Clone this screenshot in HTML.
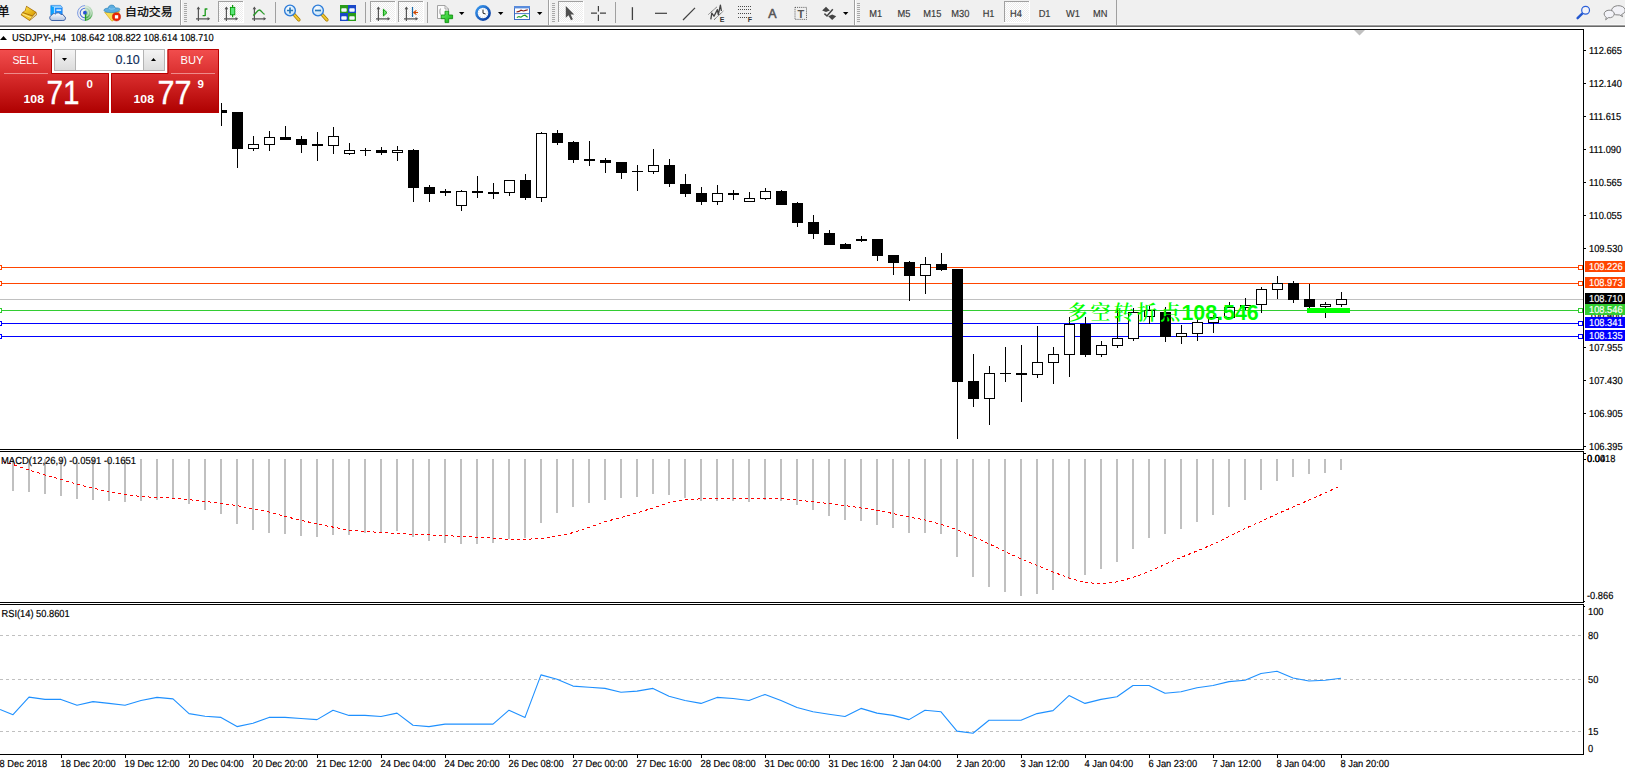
<!DOCTYPE html>
<html lang="zh"><head><meta charset="utf-8"><title>USDJPY-,H4</title>
<style>
html,body{margin:0;padding:0;background:#fff;overflow:hidden}
body{width:1625px;height:774px;position:relative;font-family:"Liberation Sans","Noto Sans CJK SC",sans-serif}
svg{position:absolute;left:0;top:0;display:block}
text{font-family:"Liberation Sans","Noto Sans CJK SC",sans-serif;font-size:9.3px;fill:#000}
.cr{shape-rendering:crispEdges}
.t{stroke:#000;stroke-width:.18px;text-rendering:geometricPrecision}
.tb text{fill:#3c3c3c}
.ax{stroke:#555;stroke-width:1.4;fill:none}
.note{font-family:"Liberation Sans","Noto Serif CJK SC",serif;font-weight:bold;font-size:21px;fill:#00ff00}
</style></head><body>
<svg width="1625" height="774" viewBox="0 0 1625 774">
<defs>
<pattern id="chk" width="2" height="2" patternUnits="userSpaceOnUse"><rect width="2" height="2" fill="#fff"/><rect width="1" height="1" fill="#ececec"/><rect x="1" y="1" width="1" height="1" fill="#ececec"/></pattern>
<linearGradient id="redg" x1="0" y1="0" x2="0" y2="1"><stop offset="0" stop-color="#f24e4e"/><stop offset="0.45" stop-color="#d62a2a"/><stop offset="1" stop-color="#ae0000"/></linearGradient>
<linearGradient id="gold" x1="0" y1="0" x2="1" y2="1"><stop offset="0" stop-color="#ffe24a"/><stop offset="1" stop-color="#d89a00"/></linearGradient>
<linearGradient id="btn" x1="0" y1="0" x2="0" y2="1"><stop offset="0" stop-color="#f4f4f4"/><stop offset="1" stop-color="#dcdcdc"/></linearGradient>
<radialGradient id="lens" cx="0.4" cy="0.35" r="0.7"><stop offset="0" stop-color="#ffffff"/><stop offset="1" stop-color="#b8dcf8"/></radialGradient>
<linearGradient id="cloud" x1="0" y1="0" x2="0" y2="1"><stop offset="0" stop-color="#ffffff"/><stop offset="1" stop-color="#b4c4de"/></linearGradient>
<linearGradient id="sig" x1="0" y1="0" x2="0" y2="1"><stop offset="0" stop-color="#d4e4d6"/><stop offset=".55" stop-color="#8cc890"/><stop offset="1" stop-color="#2a9a2e"/></linearGradient>
<linearGradient id="clk" x1="0" y1="0" x2="1" y2="1"><stop offset="0" stop-color="#3a9af0"/><stop offset="1" stop-color="#08369a"/></linearGradient>
<linearGradient id="grn" x1="0" y1="0" x2="1" y2="1"><stop offset="0" stop-color="#6cf06c"/><stop offset="1" stop-color="#12b012"/></linearGradient>
</defs>
<rect width="1625" height="774" fill="#fff"/>
<g class="cr">
<rect x="0" y="29" width="1584" height="1" fill="#000"/>
<rect x="1583" y="29" width="1" height="421" fill="#000"/>
<rect x="0" y="449" width="1584" height="1" fill="#000"/>
<rect x="0" y="451" width="1584" height="1" fill="#000"/>
<rect x="1583" y="451" width="1" height="152" fill="#000"/>
<rect x="0" y="602" width="1584" height="1" fill="#000"/>
<rect x="0" y="604" width="1584" height="1" fill="#000"/>
<rect x="1583" y="604" width="1" height="151" fill="#000"/>
<rect x="0" y="754" width="1584" height="1" fill="#000"/>
<polygon points="1354,30 1365,30 1359.5,35.5" fill="#c0c0c0" shape-rendering="auto"/>
<rect x="0" y="299" width="1583" height="1" fill="#c0c0c0"/>
<rect x="0" y="267" width="1583" height="1" fill="#ff4500"/>
<rect x="0" y="283" width="1583" height="1" fill="#ff4500"/>
<rect x="0" y="310" width="1583" height="1" fill="#32cd32"/>
<rect x="0" y="323" width="1583" height="1" fill="#0000ff"/>
<rect x="0" y="336" width="1583" height="1" fill="#0000ff"/>
<rect x="221" y="103" width="1" height="23" fill="#000"/>
<rect x="216" y="110" width="11" height="3" fill="#000"/>
<rect x="237" y="112" width="1" height="56" fill="#000"/>
<rect x="232" y="112" width="11" height="37" fill="#000"/>
<rect x="253" y="136" width="1" height="15" fill="#000"/>
<rect x="248" y="144" width="11" height="5" fill="#000"/>
<rect x="249" y="145" width="9" height="3" fill="#fff"/>
<rect x="269" y="131" width="1" height="20" fill="#000"/>
<rect x="264" y="137" width="11" height="8" fill="#000"/>
<rect x="265" y="138" width="9" height="6" fill="#fff"/>
<rect x="285" y="126" width="1" height="14" fill="#000"/>
<rect x="280" y="137" width="11" height="3" fill="#000"/>
<rect x="301" y="136" width="1" height="17" fill="#000"/>
<rect x="296" y="139" width="11" height="6" fill="#000"/>
<rect x="317" y="132" width="1" height="29" fill="#000"/>
<rect x="312" y="144" width="11" height="2" fill="#000"/>
<rect x="333" y="127" width="1" height="27" fill="#000"/>
<rect x="328" y="136" width="11" height="10" fill="#000"/>
<rect x="329" y="137" width="9" height="8" fill="#fff"/>
<rect x="349" y="143" width="1" height="12" fill="#000"/>
<rect x="344" y="150" width="11" height="4" fill="#000"/>
<rect x="345" y="151" width="9" height="2" fill="#fff"/>
<rect x="365" y="148" width="1" height="8" fill="#000"/>
<rect x="360" y="150" width="11" height="1" fill="#000"/>
<rect x="381" y="147" width="1" height="8" fill="#000"/>
<rect x="376" y="150" width="11" height="3" fill="#000"/>
<rect x="397" y="146" width="1" height="15" fill="#000"/>
<rect x="392" y="150" width="11" height="3" fill="#000"/>
<rect x="393" y="151" width="9" height="1" fill="#fff"/>
<rect x="413" y="149" width="1" height="53" fill="#000"/>
<rect x="408" y="150" width="11" height="38" fill="#000"/>
<rect x="429" y="185" width="1" height="17" fill="#000"/>
<rect x="424" y="187" width="11" height="7" fill="#000"/>
<rect x="445" y="189" width="1" height="7" fill="#000"/>
<rect x="440" y="191" width="11" height="2" fill="#000"/>
<rect x="461" y="190" width="1" height="21" fill="#000"/>
<rect x="456" y="191" width="11" height="15" fill="#000"/>
<rect x="457" y="192" width="9" height="13" fill="#fff"/>
<rect x="477" y="176" width="1" height="22" fill="#000"/>
<rect x="472" y="191" width="11" height="2" fill="#000"/>
<rect x="493" y="183" width="1" height="16" fill="#000"/>
<rect x="488" y="192" width="11" height="2" fill="#000"/>
<rect x="509" y="180" width="1" height="16" fill="#000"/>
<rect x="504" y="180" width="11" height="13" fill="#000"/>
<rect x="505" y="181" width="9" height="11" fill="#fff"/>
<rect x="525" y="174" width="1" height="26" fill="#000"/>
<rect x="520" y="180" width="11" height="18" fill="#000"/>
<rect x="541" y="132" width="1" height="70" fill="#000"/>
<rect x="536" y="133" width="11" height="65" fill="#000"/>
<rect x="537" y="134" width="9" height="63" fill="#fff"/>
<rect x="557" y="130" width="1" height="15" fill="#000"/>
<rect x="552" y="133" width="11" height="10" fill="#000"/>
<rect x="573" y="141" width="1" height="22" fill="#000"/>
<rect x="568" y="142" width="11" height="18" fill="#000"/>
<rect x="589" y="141" width="1" height="25" fill="#000"/>
<rect x="584" y="159" width="11" height="2" fill="#000"/>
<rect x="605" y="158" width="1" height="15" fill="#000"/>
<rect x="600" y="160" width="11" height="3" fill="#000"/>
<rect x="621" y="162" width="1" height="17" fill="#000"/>
<rect x="616" y="162" width="11" height="11" fill="#000"/>
<rect x="637" y="165" width="1" height="26" fill="#000"/>
<rect x="632" y="171" width="11" height="1" fill="#000"/>
<rect x="653" y="149" width="1" height="25" fill="#000"/>
<rect x="648" y="165" width="11" height="7" fill="#000"/>
<rect x="649" y="166" width="9" height="5" fill="#fff"/>
<rect x="669" y="159" width="1" height="28" fill="#000"/>
<rect x="664" y="165" width="11" height="19" fill="#000"/>
<rect x="685" y="174" width="1" height="23" fill="#000"/>
<rect x="680" y="184" width="11" height="10" fill="#000"/>
<rect x="701" y="187" width="1" height="18" fill="#000"/>
<rect x="696" y="193" width="11" height="9" fill="#000"/>
<rect x="717" y="185" width="1" height="20" fill="#000"/>
<rect x="712" y="193" width="11" height="9" fill="#000"/>
<rect x="713" y="194" width="9" height="7" fill="#fff"/>
<rect x="733" y="190" width="1" height="10" fill="#000"/>
<rect x="728" y="193" width="11" height="2" fill="#000"/>
<rect x="749" y="192" width="1" height="10" fill="#000"/>
<rect x="744" y="198" width="11" height="4" fill="#000"/>
<rect x="745" y="199" width="9" height="2" fill="#fff"/>
<rect x="765" y="188" width="1" height="12" fill="#000"/>
<rect x="760" y="191" width="11" height="8" fill="#000"/>
<rect x="761" y="192" width="9" height="6" fill="#fff"/>
<rect x="781" y="190" width="1" height="15" fill="#000"/>
<rect x="776" y="191" width="11" height="14" fill="#000"/>
<rect x="797" y="202" width="1" height="25" fill="#000"/>
<rect x="792" y="203" width="11" height="20" fill="#000"/>
<rect x="813" y="215" width="1" height="24" fill="#000"/>
<rect x="808" y="222" width="11" height="12" fill="#000"/>
<rect x="829" y="230" width="1" height="15" fill="#000"/>
<rect x="824" y="233" width="11" height="12" fill="#000"/>
<rect x="845" y="243" width="1" height="6" fill="#000"/>
<rect x="840" y="244" width="11" height="5" fill="#000"/>
<rect x="861" y="236" width="1" height="6" fill="#000"/>
<rect x="856" y="239" width="11" height="2" fill="#000"/>
<rect x="877" y="239" width="1" height="22" fill="#000"/>
<rect x="872" y="239" width="11" height="17" fill="#000"/>
<rect x="893" y="255" width="1" height="20" fill="#000"/>
<rect x="888" y="255" width="11" height="8" fill="#000"/>
<rect x="909" y="261" width="1" height="40" fill="#000"/>
<rect x="904" y="262" width="11" height="14" fill="#000"/>
<rect x="925" y="257" width="1" height="37" fill="#000"/>
<rect x="920" y="264" width="11" height="12" fill="#000"/>
<rect x="921" y="265" width="9" height="10" fill="#fff"/>
<rect x="941" y="253" width="1" height="18" fill="#000"/>
<rect x="936" y="264" width="11" height="6" fill="#000"/>
<rect x="957" y="269" width="1" height="170" fill="#000"/>
<rect x="952" y="269" width="11" height="113" fill="#000"/>
<rect x="973" y="354" width="1" height="53" fill="#000"/>
<rect x="968" y="381" width="11" height="18" fill="#000"/>
<rect x="989" y="366" width="1" height="59" fill="#000"/>
<rect x="984" y="373" width="11" height="26" fill="#000"/>
<rect x="985" y="374" width="9" height="24" fill="#fff"/>
<rect x="1005" y="347" width="1" height="35" fill="#000"/>
<rect x="1000" y="373" width="11" height="1" fill="#000"/>
<rect x="1021" y="345" width="1" height="57" fill="#000"/>
<rect x="1016" y="373" width="11" height="2" fill="#000"/>
<rect x="1037" y="326" width="1" height="52" fill="#000"/>
<rect x="1032" y="362" width="11" height="13" fill="#000"/>
<rect x="1033" y="363" width="9" height="11" fill="#fff"/>
<rect x="1053" y="347" width="1" height="37" fill="#000"/>
<rect x="1048" y="354" width="11" height="9" fill="#000"/>
<rect x="1049" y="355" width="9" height="7" fill="#fff"/>
<rect x="1069" y="317" width="1" height="60" fill="#000"/>
<rect x="1064" y="324" width="11" height="31" fill="#000"/>
<rect x="1065" y="325" width="9" height="29" fill="#fff"/>
<rect x="1085" y="317" width="1" height="40" fill="#000"/>
<rect x="1080" y="324" width="11" height="31" fill="#000"/>
<rect x="1101" y="341" width="1" height="16" fill="#000"/>
<rect x="1096" y="345" width="11" height="10" fill="#000"/>
<rect x="1097" y="346" width="9" height="8" fill="#fff"/>
<rect x="1117" y="308" width="1" height="40" fill="#000"/>
<rect x="1112" y="338" width="11" height="8" fill="#000"/>
<rect x="1113" y="339" width="9" height="6" fill="#fff"/>
<rect x="1133" y="308" width="1" height="33" fill="#000"/>
<rect x="1128" y="312" width="11" height="27" fill="#000"/>
<rect x="1129" y="313" width="9" height="25" fill="#fff"/>
<rect x="1149" y="306" width="1" height="18" fill="#000"/>
<rect x="1144" y="310" width="11" height="7" fill="#000"/>
<rect x="1145" y="311" width="9" height="5" fill="#fff"/>
<rect x="1165" y="307" width="1" height="35" fill="#000"/>
<rect x="1160" y="312" width="11" height="25" fill="#000"/>
<rect x="1181" y="325" width="1" height="19" fill="#000"/>
<rect x="1176" y="333" width="11" height="4" fill="#000"/>
<rect x="1177" y="334" width="9" height="2" fill="#fff"/>
<rect x="1197" y="319" width="1" height="22" fill="#000"/>
<rect x="1192" y="322" width="11" height="12" fill="#000"/>
<rect x="1193" y="323" width="9" height="10" fill="#fff"/>
<rect x="1213" y="315" width="1" height="18" fill="#000"/>
<rect x="1208" y="317" width="11" height="6" fill="#000"/>
<rect x="1209" y="318" width="9" height="4" fill="#fff"/>
<rect x="1229" y="302" width="1" height="16" fill="#000"/>
<rect x="1224" y="307" width="11" height="11" fill="#000"/>
<rect x="1225" y="308" width="9" height="9" fill="#fff"/>
<rect x="1245" y="298" width="1" height="12" fill="#000"/>
<rect x="1240" y="305" width="11" height="3" fill="#000"/>
<rect x="1241" y="306" width="9" height="1" fill="#fff"/>
<rect x="1261" y="287" width="1" height="26" fill="#000"/>
<rect x="1256" y="289" width="11" height="16" fill="#000"/>
<rect x="1257" y="290" width="9" height="14" fill="#fff"/>
<rect x="1277" y="276" width="1" height="23" fill="#000"/>
<rect x="1272" y="283" width="11" height="7" fill="#000"/>
<rect x="1273" y="284" width="9" height="5" fill="#fff"/>
<rect x="1293" y="281" width="1" height="22" fill="#000"/>
<rect x="1288" y="283" width="11" height="17" fill="#000"/>
<rect x="1309" y="284" width="1" height="24" fill="#000"/>
<rect x="1304" y="299" width="11" height="8" fill="#000"/>
<rect x="1325" y="302" width="1" height="16" fill="#000"/>
<rect x="1320" y="304" width="11" height="3" fill="#000"/>
<rect x="1321" y="305" width="9" height="1" fill="#fff"/>
<rect x="1341" y="292" width="1" height="15" fill="#000"/>
<rect x="1336" y="299" width="11" height="6" fill="#000"/>
<rect x="1337" y="300" width="9" height="4" fill="#fff"/>
<rect x="1307" y="308" width="43" height="5" fill="#00ff00"/>
<rect x="1578.5" y="265.5" width="4" height="4" fill="#fff" stroke="#ff4500" stroke-width="1"/>
<rect x="-2.5" y="265.5" width="4" height="4" fill="#fff" stroke="#ff4500" stroke-width="1"/>
<rect x="1578.5" y="281.5" width="4" height="4" fill="#fff" stroke="#ff4500" stroke-width="1"/>
<rect x="-2.5" y="281.5" width="4" height="4" fill="#fff" stroke="#ff4500" stroke-width="1"/>
<rect x="1578.5" y="308.5" width="4" height="4" fill="#fff" stroke="#32cd32" stroke-width="1"/>
<rect x="-2.5" y="308.5" width="4" height="4" fill="#fff" stroke="#32cd32" stroke-width="1"/>
<rect x="1578.5" y="321.5" width="4" height="4" fill="#fff" stroke="#0000ff" stroke-width="1"/>
<rect x="-2.5" y="321.5" width="4" height="4" fill="#fff" stroke="#0000ff" stroke-width="1"/>
<rect x="1578.5" y="334.5" width="4" height="4" fill="#fff" stroke="#0000ff" stroke-width="1"/>
<rect x="-2.5" y="334.5" width="4" height="4" fill="#fff" stroke="#0000ff" stroke-width="1"/>
<rect x="1584" y="50" width="2" height="1" fill="#000"/>
<rect x="1584" y="83" width="2" height="1" fill="#000"/>
<rect x="1584" y="116" width="2" height="1" fill="#000"/>
<rect x="1584" y="149" width="2" height="1" fill="#000"/>
<rect x="1584" y="182" width="2" height="1" fill="#000"/>
<rect x="1584" y="215" width="2" height="1" fill="#000"/>
<rect x="1584" y="248" width="2" height="1" fill="#000"/>
<rect x="1584" y="347" width="2" height="1" fill="#000"/>
<rect x="1584" y="380" width="2" height="1" fill="#000"/>
<rect x="1584" y="413" width="2" height="1" fill="#000"/>
<rect x="1584" y="446" width="2" height="1" fill="#000"/>
<rect x="12" y="459" width="2" height="32" fill="#c0c0c0"/>
<rect x="28" y="459" width="2" height="33" fill="#c0c0c0"/>
<rect x="44" y="459" width="2" height="35" fill="#c0c0c0"/>
<rect x="60" y="459" width="2" height="37" fill="#c0c0c0"/>
<rect x="76" y="459" width="2" height="40" fill="#c0c0c0"/>
<rect x="92" y="459" width="2" height="41" fill="#c0c0c0"/>
<rect x="108" y="459" width="2" height="42" fill="#c0c0c0"/>
<rect x="124" y="459" width="2" height="43" fill="#c0c0c0"/>
<rect x="140" y="459" width="2" height="42" fill="#c0c0c0"/>
<rect x="156" y="459" width="2" height="41" fill="#c0c0c0"/>
<rect x="172" y="459" width="2" height="40" fill="#c0c0c0"/>
<rect x="188" y="459" width="2" height="45" fill="#c0c0c0"/>
<rect x="204" y="459" width="2" height="51" fill="#c0c0c0"/>
<rect x="220" y="459" width="2" height="55" fill="#c0c0c0"/>
<rect x="236" y="459" width="2" height="65" fill="#c0c0c0"/>
<rect x="252" y="459" width="2" height="71" fill="#c0c0c0"/>
<rect x="268" y="459" width="2" height="74" fill="#c0c0c0"/>
<rect x="284" y="459" width="2" height="75" fill="#c0c0c0"/>
<rect x="300" y="459" width="2" height="77" fill="#c0c0c0"/>
<rect x="316" y="459" width="2" height="78" fill="#c0c0c0"/>
<rect x="332" y="459" width="2" height="76" fill="#c0c0c0"/>
<rect x="348" y="459" width="2" height="76" fill="#c0c0c0"/>
<rect x="364" y="459" width="2" height="74" fill="#c0c0c0"/>
<rect x="380" y="459" width="2" height="74" fill="#c0c0c0"/>
<rect x="396" y="459" width="2" height="72" fill="#c0c0c0"/>
<rect x="412" y="459" width="2" height="78" fill="#c0c0c0"/>
<rect x="428" y="459" width="2" height="82" fill="#c0c0c0"/>
<rect x="444" y="459" width="2" height="84" fill="#c0c0c0"/>
<rect x="460" y="459" width="2" height="85" fill="#c0c0c0"/>
<rect x="476" y="459" width="2" height="85" fill="#c0c0c0"/>
<rect x="492" y="459" width="2" height="84" fill="#c0c0c0"/>
<rect x="508" y="459" width="2" height="80" fill="#c0c0c0"/>
<rect x="524" y="459" width="2" height="79" fill="#c0c0c0"/>
<rect x="540" y="459" width="2" height="64" fill="#c0c0c0"/>
<rect x="556" y="459" width="2" height="54" fill="#c0c0c0"/>
<rect x="572" y="459" width="2" height="48" fill="#c0c0c0"/>
<rect x="588" y="459" width="2" height="44" fill="#c0c0c0"/>
<rect x="604" y="459" width="2" height="41" fill="#c0c0c0"/>
<rect x="620" y="459" width="2" height="39" fill="#c0c0c0"/>
<rect x="636" y="459" width="2" height="38" fill="#c0c0c0"/>
<rect x="652" y="459" width="2" height="35" fill="#c0c0c0"/>
<rect x="668" y="459" width="2" height="36" fill="#c0c0c0"/>
<rect x="684" y="459" width="2" height="39" fill="#c0c0c0"/>
<rect x="700" y="459" width="2" height="42" fill="#c0c0c0"/>
<rect x="716" y="459" width="2" height="42" fill="#c0c0c0"/>
<rect x="732" y="459" width="2" height="42" fill="#c0c0c0"/>
<rect x="748" y="459" width="2" height="43" fill="#c0c0c0"/>
<rect x="764" y="459" width="2" height="41" fill="#c0c0c0"/>
<rect x="780" y="459" width="2" height="42" fill="#c0c0c0"/>
<rect x="796" y="459" width="2" height="46" fill="#c0c0c0"/>
<rect x="812" y="459" width="2" height="51" fill="#c0c0c0"/>
<rect x="828" y="459" width="2" height="57" fill="#c0c0c0"/>
<rect x="844" y="459" width="2" height="61" fill="#c0c0c0"/>
<rect x="860" y="459" width="2" height="62" fill="#c0c0c0"/>
<rect x="876" y="459" width="2" height="66" fill="#c0c0c0"/>
<rect x="892" y="459" width="2" height="69" fill="#c0c0c0"/>
<rect x="908" y="459" width="2" height="74" fill="#c0c0c0"/>
<rect x="924" y="459" width="2" height="74" fill="#c0c0c0"/>
<rect x="940" y="459" width="2" height="75" fill="#c0c0c0"/>
<rect x="956" y="459" width="2" height="98" fill="#c0c0c0"/>
<rect x="972" y="459" width="2" height="118" fill="#c0c0c0"/>
<rect x="988" y="459" width="2" height="128" fill="#c0c0c0"/>
<rect x="1004" y="459" width="2" height="133" fill="#c0c0c0"/>
<rect x="1020" y="459" width="2" height="137" fill="#c0c0c0"/>
<rect x="1036" y="459" width="2" height="135" fill="#c0c0c0"/>
<rect x="1052" y="459" width="2" height="131" fill="#c0c0c0"/>
<rect x="1068" y="459" width="2" height="120" fill="#c0c0c0"/>
<rect x="1084" y="459" width="2" height="116" fill="#c0c0c0"/>
<rect x="1100" y="459" width="2" height="110" fill="#c0c0c0"/>
<rect x="1116" y="459" width="2" height="103" fill="#c0c0c0"/>
<rect x="1132" y="459" width="2" height="90" fill="#c0c0c0"/>
<rect x="1148" y="459" width="2" height="79" fill="#c0c0c0"/>
<rect x="1164" y="459" width="2" height="75" fill="#c0c0c0"/>
<rect x="1180" y="459" width="2" height="70" fill="#c0c0c0"/>
<rect x="1196" y="459" width="2" height="63" fill="#c0c0c0"/>
<rect x="1212" y="459" width="2" height="56" fill="#c0c0c0"/>
<rect x="1228" y="459" width="2" height="48" fill="#c0c0c0"/>
<rect x="1244" y="459" width="2" height="41" fill="#c0c0c0"/>
<rect x="1260" y="459" width="2" height="31" fill="#c0c0c0"/>
<rect x="1276" y="459" width="2" height="22" fill="#c0c0c0"/>
<rect x="1292" y="459" width="2" height="18" fill="#c0c0c0"/>
<rect x="1308" y="459" width="2" height="15" fill="#c0c0c0"/>
<rect x="1324" y="459" width="2" height="14" fill="#c0c0c0"/>
<rect x="1340" y="459" width="2" height="11" fill="#c0c0c0"/>
<rect x="1584" y="453" width="2" height="1" fill="#000"/><rect x="1584" y="459" width="2" height="1" fill="#000"/><rect x="1584" y="601" width="1" height="1" fill="#000"/><rect x="1584" y="606" width="1" height="1" fill="#000"/>
<line x1="0" y1="635.5" x2="1583" y2="635.5" stroke="#c0c0c0" stroke-width="1" stroke-dasharray="3 3"/>
<line x1="0" y1="679.5" x2="1583" y2="679.5" stroke="#c0c0c0" stroke-width="1" stroke-dasharray="3 3"/>
<line x1="0" y1="731.5" x2="1583" y2="731.5" stroke="#c0c0c0" stroke-width="1" stroke-dasharray="3 3"/>
<rect x="61" y="755" width="1" height="3" fill="#000"/>
<rect x="125" y="755" width="1" height="3" fill="#000"/>
<rect x="189" y="755" width="1" height="3" fill="#000"/>
<rect x="253" y="755" width="1" height="3" fill="#000"/>
<rect x="317" y="755" width="1" height="3" fill="#000"/>
<rect x="381" y="755" width="1" height="3" fill="#000"/>
<rect x="445" y="755" width="1" height="3" fill="#000"/>
<rect x="509" y="755" width="1" height="3" fill="#000"/>
<rect x="573" y="755" width="1" height="3" fill="#000"/>
<rect x="637" y="755" width="1" height="3" fill="#000"/>
<rect x="701" y="755" width="1" height="3" fill="#000"/>
<rect x="765" y="755" width="1" height="3" fill="#000"/>
<rect x="829" y="755" width="1" height="3" fill="#000"/>
<rect x="893" y="755" width="1" height="3" fill="#000"/>
<rect x="957" y="755" width="1" height="3" fill="#000"/>
<rect x="1021" y="755" width="1" height="3" fill="#000"/>
<rect x="1085" y="755" width="1" height="3" fill="#000"/>
<rect x="1149" y="755" width="1" height="3" fill="#000"/>
<rect x="1213" y="755" width="1" height="3" fill="#000"/>
<rect x="1277" y="755" width="1" height="3" fill="#000"/>
<rect x="1341" y="755" width="1" height="3" fill="#000"/>
</g>
<polyline points="-3,460 13,464.5 29,470 45,474.9 77,484.2 109,492 141,496.6 173,498.2 205,501.3 237,505.5 269,512.1 285,516.5 317,524 349,530.2 381,532.5 413,534.4 445,535.5 461,536.5 493,538 509,539.4 525,539.4 541,538.4 557,536 573,532.7 589,527.5 605,521.7 621,517.5 637,512.9 653,508 669,502.8 685,500 701,498.8 781,498.8 797,500 813,501.8 829,503.5 845,505.5 861,508 877,510.4 893,513.5 909,517 925,520 941,524.5 957,529.6 973,536.5 989,543.8 1005,551.5 1021,558.9 1037,565.5 1053,571.9 1069,578 1085,582.5 1101,583.6 1117,581.9 1133,577.5 1149,571.5 1165,564.5 1181,557.4 1197,551 1213,544.3 1229,536.5 1245,528.6 1261,521.5 1277,514 1293,507 1309,500 1325,493 1338,487" fill="none" stroke="#ff0000" stroke-width="1" stroke-dasharray="3 3" shape-rendering="crispEdges"/>
<polyline points="-3,708 0,709.5 13,714.7 29,697.1 45,699.4 61,699.4 77,705.2 93,701.6 109,703.4 125,705.2 141,700.5 157,697.4 173,698.9 189,713.6 205,716.3 221,717.4 237,726.6 253,723.2 269,717.4 285,717.4 301,718.5 317,719.6 333,710.2 349,715.4 365,715.4 381,716.5 397,713.1 413,725.3 429,726.6 445,724.1 461,724.1 477,724.1 493,724.1 509,710.2 525,717.4 541,674.9 557,679.2 573,686.1 589,687.3 605,688.4 621,692.2 637,691.1 653,688.4 669,696.2 685,700.5 701,703.4 717,697.4 733,698.5 749,700.5 765,694.4 781,700.5 797,707.5 813,711.8 829,714.2 845,716.5 861,708.4 877,713.1 893,715.4 909,719.6 925,710.2 941,711.8 957,731.1 973,733.3 989,720.3 1005,720.3 1021,720.3 1037,713.6 1053,710.6 1069,695.6 1085,703.4 1101,699.4 1117,696.7 1133,685.5 1149,685.5 1165,693.3 1181,691.7 1197,687.7 1213,685.5 1229,681.6 1245,680.3 1261,673.5 1277,671.3 1293,678 1309,681 1325,680.3 1341,678.3" fill="none" stroke="#1e90ff" stroke-width="1.1" stroke-linejoin="round"/>
<text transform="translate(1589 54) scale(0.912 1)" text-anchor="start" style="font-size:10.2px;" class="t">112.665</text>
<text transform="translate(1589 87) scale(0.912 1)" text-anchor="start" style="font-size:10.2px;" class="t">112.140</text>
<text transform="translate(1589 120) scale(0.912 1)" text-anchor="start" style="font-size:10.2px;" class="t">111.615</text>
<text transform="translate(1589 153) scale(0.912 1)" text-anchor="start" style="font-size:10.2px;" class="t">111.090</text>
<text transform="translate(1589 186) scale(0.912 1)" text-anchor="start" style="font-size:10.2px;" class="t">110.565</text>
<text transform="translate(1589 219) scale(0.912 1)" text-anchor="start" style="font-size:10.2px;" class="t">110.055</text>
<text transform="translate(1589 252) scale(0.912 1)" text-anchor="start" style="font-size:10.2px;" class="t">109.530</text>
<text transform="translate(1589 351) scale(0.912 1)" text-anchor="start" style="font-size:10.2px;" class="t">107.955</text>
<text transform="translate(1589 384) scale(0.912 1)" text-anchor="start" style="font-size:10.2px;" class="t">107.430</text>
<text transform="translate(1589 417) scale(0.912 1)" text-anchor="start" style="font-size:10.2px;" class="t">106.905</text>
<text transform="translate(1589 450) scale(0.912 1)" text-anchor="start" style="font-size:10.2px;" class="t">106.395</text>
<text transform="translate(1589 318) scale(0.912 1)" text-anchor="start" style="font-size:10.2px;" class="t">108.480</text>
<rect class="cr" x="1585" y="261" width="40" height="11" fill="#ff4500"/>
<text transform="translate(1589 270) scale(0.912 1)" text-anchor="start" style="font-size:10.2px;fill:#fff;stroke:#fff;" class="t">109.226</text>
<rect class="cr" x="1585" y="277" width="40" height="11" fill="#ff4500"/>
<text transform="translate(1589 286) scale(0.912 1)" text-anchor="start" style="font-size:10.2px;fill:#fff;stroke:#fff;" class="t">108.973</text>
<rect class="cr" x="1585" y="293" width="40" height="11" fill="#000"/>
<text transform="translate(1589 302) scale(0.912 1)" text-anchor="start" style="font-size:10.2px;fill:#fff;stroke:#fff;" class="t">108.710</text>
<rect class="cr" x="1585" y="304" width="40" height="11" fill="#32cd32"/>
<text transform="translate(1589 313) scale(0.912 1)" text-anchor="start" style="font-size:10.2px;fill:#fff;stroke:#fff;" class="t">108.546</text>
<rect class="cr" x="1585" y="317" width="40" height="11" fill="#0000ff"/>
<text transform="translate(1589 326) scale(0.912 1)" text-anchor="start" style="font-size:10.2px;fill:#fff;stroke:#fff;" class="t">108.341</text>
<rect class="cr" x="1585" y="330" width="40" height="11" fill="#0000ff"/>
<text transform="translate(1589 339) scale(0.912 1)" text-anchor="start" style="font-size:10.2px;fill:#fff;stroke:#fff;" class="t">108.135</text>
<text transform="translate(1587 462.4) scale(0.912 1)" text-anchor="start" style="font-size:10.2px;" class="t">0.00</text>
<text transform="translate(1587 462.4) scale(0.912 1)" text-anchor="start" style="font-size:10.2px;" class="t">0.0418</text>
<text transform="translate(1587 599) scale(0.912 1)" text-anchor="start" style="font-size:10.2px;" class="t">-0.866</text>
<text transform="translate(1588 615) scale(0.912 1)" text-anchor="start" style="font-size:10.2px;" class="t">100</text>
<text transform="translate(1588 639) scale(0.912 1)" text-anchor="start" style="font-size:10.2px;" class="t">80</text>
<text transform="translate(1588 683) scale(0.912 1)" text-anchor="start" style="font-size:10.2px;" class="t">50</text>
<text transform="translate(1588 735) scale(0.912 1)" text-anchor="start" style="font-size:10.2px;" class="t">15</text>
<text transform="translate(1588 752) scale(0.912 1)" text-anchor="start" style="font-size:10.2px;" class="t">0</text>
<text transform="translate(-5.6 767) scale(0.912 1)" text-anchor="start" style="font-size:10.2px;" class="t">18 Dec 2018</text>
<text transform="translate(60.5 767) scale(0.912 1)" text-anchor="start" style="font-size:10.2px;" class="t">18 Dec 20:00</text>
<text transform="translate(124.5 767) scale(0.912 1)" text-anchor="start" style="font-size:10.2px;" class="t">19 Dec 12:00</text>
<text transform="translate(188.5 767) scale(0.912 1)" text-anchor="start" style="font-size:10.2px;" class="t">20 Dec 04:00</text>
<text transform="translate(252.5 767) scale(0.912 1)" text-anchor="start" style="font-size:10.2px;" class="t">20 Dec 20:00</text>
<text transform="translate(316.5 767) scale(0.912 1)" text-anchor="start" style="font-size:10.2px;" class="t">21 Dec 12:00</text>
<text transform="translate(380.5 767) scale(0.912 1)" text-anchor="start" style="font-size:10.2px;" class="t">24 Dec 04:00</text>
<text transform="translate(444.5 767) scale(0.912 1)" text-anchor="start" style="font-size:10.2px;" class="t">24 Dec 20:00</text>
<text transform="translate(508.5 767) scale(0.912 1)" text-anchor="start" style="font-size:10.2px;" class="t">26 Dec 08:00</text>
<text transform="translate(572.5 767) scale(0.912 1)" text-anchor="start" style="font-size:10.2px;" class="t">27 Dec 00:00</text>
<text transform="translate(636.5 767) scale(0.912 1)" text-anchor="start" style="font-size:10.2px;" class="t">27 Dec 16:00</text>
<text transform="translate(700.5 767) scale(0.912 1)" text-anchor="start" style="font-size:10.2px;" class="t">28 Dec 08:00</text>
<text transform="translate(764.5 767) scale(0.912 1)" text-anchor="start" style="font-size:10.2px;" class="t">31 Dec 00:00</text>
<text transform="translate(828.5 767) scale(0.912 1)" text-anchor="start" style="font-size:10.2px;" class="t">31 Dec 16:00</text>
<text transform="translate(892.5 767) scale(0.912 1)" text-anchor="start" style="font-size:10.2px;" class="t">2 Jan 04:00</text>
<text transform="translate(956.5 767) scale(0.912 1)" text-anchor="start" style="font-size:10.2px;" class="t">2 Jan 20:00</text>
<text transform="translate(1020.5 767) scale(0.912 1)" text-anchor="start" style="font-size:10.2px;" class="t">3 Jan 12:00</text>
<text transform="translate(1084.5 767) scale(0.912 1)" text-anchor="start" style="font-size:10.2px;" class="t">4 Jan 04:00</text>
<text transform="translate(1148.5 767) scale(0.912 1)" text-anchor="start" style="font-size:10.2px;" class="t">6 Jan 23:00</text>
<text transform="translate(1212.5 767) scale(0.912 1)" text-anchor="start" style="font-size:10.2px;" class="t">7 Jan 12:00</text>
<text transform="translate(1276.5 767) scale(0.912 1)" text-anchor="start" style="font-size:10.2px;" class="t">8 Jan 04:00</text>
<text transform="translate(1340.5 767) scale(0.912 1)" text-anchor="start" style="font-size:10.2px;" class="t">8 Jan 20:00</text>
<polygon points="0,40 3.5,36 7,40" fill="#000"/>
<text transform="translate(12 41) scale(0.917 1)" text-anchor="start" style="font-size:10.2px;white-space:pre;" class="t" xml:space="preserve">USDJPY-,H4  108.642 108.822 108.614 108.710</text>
<text transform="translate(1 464) scale(0.927 1)" text-anchor="start" style="font-size:10.2px;" class="t">MACD(12,26,9) -0.0591 -0.1651</text>
<text transform="translate(1.5 617) scale(0.912 1)" text-anchor="start" style="font-size:10.2px;" class="t">RSI(14) 50.8601</text>
<text class="note" y="319.6" x="1067.6 1090.6 1113.8 1137 1160.2 1181.4" style="font-size:21.4px"><tspan style="font-size:20px;font-weight:600">多空转折点</tspan>108.546</text>
<g>
<rect class="cr" x="0" y="49" width="221" height="65" fill="#fff"/>
<path d="M0 49H52V73H109V113H0Z" fill="url(#redg)"/>
<path d="M167.5 49H219V113H111V73H167.5Z" fill="url(#redg)"/>
<path d="M0 49.5H51.5V73.5H108.5V112.5H0" fill="none" stroke="#b80000" stroke-width="1"/>
<path d="M168 49.5H218.5V112.5H111.5V73.5H168Z" fill="none" stroke="#b80000" stroke-width="1"/>
<rect class="cr" x="4" y="73" width="44" height="1" fill="#ee8a8a"/>
<rect class="cr" x="171" y="73" width="44" height="1" fill="#ee8a8a"/>
<rect x="54.5" y="49.5" width="110" height="21" fill="#fff" stroke="#b4b4b4"/>
<rect x="55" y="50" width="20" height="20" fill="url(#btn)"/><rect x="144" y="50" width="20" height="20" fill="url(#btn)"/>
<rect class="cr" x="75" y="50" width="1" height="20" fill="#b4b4b4"/><rect class="cr" x="143" y="50" width="1" height="20" fill="#b4b4b4"/>
<polygon points="62,58 67,58 64.5,61" fill="#000"/><polygon points="151,61 156,61 153.5,58" fill="#000"/>
<text x="139.8" y="64" text-anchor="end" style="font-size:12.5px;fill:#0c2c58;stroke:#0c2c58;stroke-width:.15px">0.10</text>
<text x="25.2" y="64.4" text-anchor="middle" style="font-size:11.5px;fill:#fff" textLength="25.6" lengthAdjust="spacingAndGlyphs">SELL</text>
<text x="192" y="64.4" text-anchor="middle" style="font-size:11.5px;fill:#fff" textLength="23" lengthAdjust="spacingAndGlyphs">BUY</text>
<text x="23.5" y="103.4" style="font-size:11.5px;fill:#fff;font-weight:bold" textLength="20.5" lengthAdjust="spacingAndGlyphs">108</text>
<text x="46.5" y="104"  style="font-size:33.5px;fill:#fff;stroke:#fff;stroke-width:.35px" textLength="33" lengthAdjust="spacingAndGlyphs">71</text>
<text x="86.5" y="88" style="font-size:11.5px;fill:#fff;font-weight:bold">0</text>
<text x="133.5" y="103.4" style="font-size:11.5px;fill:#fff;font-weight:bold" textLength="20.5" lengthAdjust="spacingAndGlyphs">108</text>
<text x="157.5" y="104"  style="font-size:33.5px;fill:#fff;stroke:#fff;stroke-width:.35px" textLength="34" lengthAdjust="spacingAndGlyphs">77</text>
<text x="197.5" y="88" style="font-size:11.5px;fill:#fff;font-weight:bold">9</text>
</g>
<g class="tb">
<g class="cr">
<rect x="0" y="0" width="1625" height="24" fill="#f0f0f0"/>
<rect x="0" y="24" width="1625" height="1" fill="#f7f7f7"/>
<rect x="0" y="25" width="1625" height="1" fill="#a0a0a0"/>
<rect x="0" y="26" width="1625" height="1" fill="#696969"/>
<rect x="180" y="0" width="1" height="25" fill="#a0a0a0"/><rect x="181" y="0" width="1" height="25" fill="#fff"/>
<rect x="548" y="0" width="1" height="25" fill="#a0a0a0"/><rect x="549" y="0" width="1" height="25" fill="#fff"/>
<rect x="854" y="0" width="1" height="25" fill="#a0a0a0"/><rect x="855" y="0" width="1" height="25" fill="#fff"/>
<rect x="184" y="3" width="3" height="1" fill="#a8a8a8"/>
<rect x="184" y="5" width="3" height="1" fill="#a8a8a8"/>
<rect x="184" y="7" width="3" height="1" fill="#a8a8a8"/>
<rect x="184" y="9" width="3" height="1" fill="#a8a8a8"/>
<rect x="184" y="11" width="3" height="1" fill="#a8a8a8"/>
<rect x="184" y="13" width="3" height="1" fill="#a8a8a8"/>
<rect x="184" y="15" width="3" height="1" fill="#a8a8a8"/>
<rect x="184" y="17" width="3" height="1" fill="#a8a8a8"/>
<rect x="184" y="19" width="3" height="1" fill="#a8a8a8"/>
<rect x="184" y="21" width="3" height="1" fill="#a8a8a8"/>
<rect x="552" y="3" width="3" height="1" fill="#a8a8a8"/>
<rect x="552" y="5" width="3" height="1" fill="#a8a8a8"/>
<rect x="552" y="7" width="3" height="1" fill="#a8a8a8"/>
<rect x="552" y="9" width="3" height="1" fill="#a8a8a8"/>
<rect x="552" y="11" width="3" height="1" fill="#a8a8a8"/>
<rect x="552" y="13" width="3" height="1" fill="#a8a8a8"/>
<rect x="552" y="15" width="3" height="1" fill="#a8a8a8"/>
<rect x="552" y="17" width="3" height="1" fill="#a8a8a8"/>
<rect x="552" y="19" width="3" height="1" fill="#a8a8a8"/>
<rect x="552" y="21" width="3" height="1" fill="#a8a8a8"/>
<rect x="857" y="3" width="3" height="1" fill="#a8a8a8"/>
<rect x="857" y="5" width="3" height="1" fill="#a8a8a8"/>
<rect x="857" y="7" width="3" height="1" fill="#a8a8a8"/>
<rect x="857" y="9" width="3" height="1" fill="#a8a8a8"/>
<rect x="857" y="11" width="3" height="1" fill="#a8a8a8"/>
<rect x="857" y="13" width="3" height="1" fill="#a8a8a8"/>
<rect x="857" y="15" width="3" height="1" fill="#a8a8a8"/>
<rect x="857" y="17" width="3" height="1" fill="#a8a8a8"/>
<rect x="857" y="19" width="3" height="1" fill="#a8a8a8"/>
<rect x="857" y="21" width="3" height="1" fill="#a8a8a8"/>
<rect x="1116" y="0" width="1" height="25" fill="#a0a0a0"/>
<rect x="275" y="2" width="1" height="21" fill="#a0a0a0"/>
<rect x="365" y="2" width="1" height="21" fill="#a0a0a0"/>
<rect x="427" y="2" width="1" height="21" fill="#a0a0a0"/>
<rect x="615" y="2" width="1" height="21" fill="#a0a0a0"/>
<rect x="218" y="1" width="26" height="22" fill="url(#chk)"/>
<rect x="218" y="1" width="26" height="1" fill="#a0a0a0"/><rect x="218" y="1" width="1" height="22" fill="#a0a0a0"/>
<rect x="218" y="22" width="26" height="1" fill="#fff"/><rect x="243" y="1" width="1" height="22" fill="#fff"/>
<rect x="370" y="1" width="26" height="22" fill="url(#chk)"/>
<rect x="370" y="1" width="26" height="1" fill="#a0a0a0"/><rect x="370" y="1" width="1" height="22" fill="#a0a0a0"/>
<rect x="370" y="22" width="26" height="1" fill="#fff"/><rect x="395" y="1" width="1" height="22" fill="#fff"/>
<rect x="398" y="1" width="26" height="22" fill="url(#chk)"/>
<rect x="398" y="1" width="26" height="1" fill="#a0a0a0"/><rect x="398" y="1" width="1" height="22" fill="#a0a0a0"/>
<rect x="398" y="22" width="26" height="1" fill="#fff"/><rect x="423" y="1" width="1" height="22" fill="#fff"/>
<rect x="558" y="1" width="26" height="22" fill="url(#chk)"/>
<rect x="558" y="1" width="26" height="1" fill="#a0a0a0"/><rect x="558" y="1" width="1" height="22" fill="#a0a0a0"/>
<rect x="558" y="22" width="26" height="1" fill="#fff"/><rect x="583" y="1" width="1" height="22" fill="#fff"/>
<rect x="1004" y="1" width="26" height="22" fill="url(#chk)"/>
<rect x="1004" y="1" width="26" height="1" fill="#a0a0a0"/><rect x="1004" y="1" width="1" height="22" fill="#a0a0a0"/>
<rect x="1004" y="22" width="26" height="1" fill="#fff"/><rect x="1029" y="1" width="1" height="22" fill="#fff"/>
</g>
<text x="-2.6" y="16" style="font-size:12px;fill:#000;stroke:#000;stroke-width:.25px">单</text>
<path d="M26.3 5.7L36.3 11.9L37 14.8L29.6 21.1L20.7 14.9L22.4 12.2L24.8 10.6Z" fill="#a8700c"/>
<path d="M35.7 13L36.4 14.6L29.9 20.1L32.8 16.2Z" fill="#e8d9a4"/>
<path d="M22.7 13L32.4 16.4L29.4 20.1L21.7 14.7Z" fill="#f3c62e"/><path d="M22.4 13.9L31.2 17.6" stroke="#ffe88a" stroke-width="1" fill="none"/>
<path d="M26.6 6.8L35.3 12.2L32.6 15.5L23.3 12.2L25.6 10.4Z" fill="url(#gold)"/>
<path d="M50.8 5.4L54.4 7.2V15H50.8Z" fill="#0aa4ff"/><path d="M50.8 5.4H60.6L62.2 7.2H54.4Z" fill="#6cc4ff"/><rect x="54.4" y="7.2" width="7.8" height="8" fill="#1e90ff"/><path d="M54.4 7.2V15M54.4 7.2H62.2" stroke="#e8f6ff" stroke-width=".7" fill="none"/><rect x="56.4" y="9.4" width="4.8" height="1.5" fill="#e4f4ff"/><path d="M50.8 5.4V15M50.8 5.4H60.6L62.2 7.2V15" stroke="#1878e0" stroke-width=".6" fill="none"/>
<path d="M52 20.5a2.7 2.7 0 0 1 -.2-5.3a2.4 2.4 0 0 1 3.6-1.2a3.3 3.3 0 0 1 5.4 .4a2.6 2.6 0 0 1 3.3 1.7a2.3 2.3 0 0 1 -1.2 4.4Z" fill="url(#cloud)" stroke="#3f64a8" stroke-width="1"/>
<path d="M85 5.2A7.8 7.8 0 0 1 85 20.8Z" fill="url(#sig)"/>
<g fill="none"><circle cx="85" cy="13" r="6.2" stroke="#f0f0f0" stroke-width=".9" opacity=".75"/><circle cx="85" cy="13" r="3.5" stroke="#f0f0f0" stroke-width=".9" opacity=".75"/></g>
<g fill="none" stroke="#4a72d8"><path d="M85 5.6A7.4 7.4 0 0 0 85 20.4" stroke-width="1" stroke="#7d9be2"/><path d="M85 8.2A4.8 4.8 0 0 0 85 17.8" stroke-width="1.1"/></g>
<path d="M85.5 13V20.6" stroke="#1fa01f" stroke-width="1.3"/><circle cx="84.9" cy="12.7" r="1.9" fill="#2a54d4"/>
<path d="M104.6 12.2L119.6 11.4L113 20.9H111.6Z" fill="#f8dc52" stroke="#d6a61c" stroke-width=".7"/>
<path d="M104 10.3c0 -1.6 2.2 -2 4.2 -2.2c.4 -1.8 1.4 -3 3.5 -3s3 1.2 3.4 2.8c2.4 0 4.8 .2 4.8 1.4c0 2 -4.2 3.4 -8.4 3.4s-7.5 -1 -7.5 -2.4Z" fill="#5cace0" stroke="#2c84b8" stroke-width=".7"/><path d="M109 8.4c1.4 1 4.4 1 5.8 -.2" stroke="#8fd0f4" stroke-width=".8" fill="none"/>
<circle cx="116.5" cy="16.8" r="4.1" fill="#ea2406" stroke="#c01800" stroke-width=".5"/><rect x="114.9" y="15.2" width="3.3" height="3.3" fill="#fff"/>
<text x="125" y="16" style="font-size:11.9px;fill:#000;stroke:#000;stroke-width:.25px" textLength="47.6" lengthAdjust="spacing">自动交易</text>
<path d="M198.4 21V7.6M196 18.8H209" stroke="#555" stroke-width="1.2" fill="none"/>
<path d="M198.4 6.6l-1.8 2.6h3.6zM210.2 18.8l-2.6 -1.8v3.6z" fill="#555"/>
<path d="M205.2 8.4V16M205.2 9H207.4M202.6 15.6H205.2" stroke="#1a9a1a" stroke-width="1.3" fill="none"/>
<path d="M226.4 21V7.6M224 18.8H237" stroke="#555" stroke-width="1.2" fill="none"/>
<path d="M226.4 6.6l-1.8 2.6h3.6zM238.2 18.8l-2.6 -1.8v3.6z" fill="#555"/>
<path d="M232.6 5V17.2" stroke="#0a9a0a" stroke-width="1.2"/><rect x="230.4" y="7.4" width="4.4" height="7.4" fill="#5ae878" stroke="#0a9a0a" stroke-width=".9"/>
<path d="M254.4 21V7.6M252 18.8H265" stroke="#555" stroke-width="1.2" fill="none"/>
<path d="M254.4 6.6l-1.8 2.6h3.6zM266.2 18.8l-2.6 -1.8v3.6z" fill="#555"/>
<path d="M253.2 15.6C256 13.5 257.5 10 259.3 10C261.2 10 262.5 13.5 264.6 14.4" stroke="#2a9a2a" stroke-width="1.3" fill="none"/>
<path d="M294.2 14.6L298.9 19.8" stroke="#a87800" stroke-width="3.4" stroke-linecap="round"/><path d="M294.2 14.6L298.9 19.8" stroke="#f0c830" stroke-width="2" stroke-linecap="round"/>
<circle cx="290" cy="10.5" r="5.4" fill="url(#lens)" stroke="#2a7ad8" stroke-width="1.3"/>
<path d="M287 10.5H293M290 7.5V13.5" stroke="#2a78b8" stroke-width="1.7"/>
<path d="M322.2 14.6L326.9 19.8" stroke="#a87800" stroke-width="3.4" stroke-linecap="round"/><path d="M322.2 14.6L326.9 19.8" stroke="#f0c830" stroke-width="2" stroke-linecap="round"/>
<circle cx="318" cy="10.5" r="5.4" fill="url(#lens)" stroke="#2a7ad8" stroke-width="1.3"/>
<path d="M315 10.5H321" stroke="#2a78b8" stroke-width="1.7"/>
<rect x="340" y="5" width="8" height="8" fill="#2a9c1a"/><rect x="341.3" y="8.2" width="5.4" height="3.6" rx=".8" fill="#f4f8ff"/>
<rect x="348" y="5" width="8" height="8" fill="#1a48c8"/><rect x="349.3" y="8.2" width="5.4" height="3.6" rx=".8" fill="#f4f8ff"/>
<rect x="340" y="13" width="8" height="8" fill="#1a48c8"/><rect x="341.3" y="16.2" width="5.4" height="3.6" rx=".8" fill="#f4f8ff"/>
<rect x="348" y="13" width="8" height="8" fill="#2a9c1a"/><rect x="349.3" y="16.2" width="5.4" height="3.6" rx=".8" fill="#f4f8ff"/>
<path d="M378.4 21V7.6M376 18.8H389" stroke="#555" stroke-width="1.2" fill="none"/>
<path d="M378.4 6.6l-1.8 2.6h3.6zM390.2 18.8l-2.6 -1.8v3.6z" fill="#555"/>
<path d="M383.4 9.2L387 12.6L383.4 16Z" fill="#6ae06a" stroke="#0a9a0a" stroke-width="1"/>
<path d="M406.4 21V7.6M404 18.8H417" stroke="#555" stroke-width="1.2" fill="none"/>
<path d="M406.4 6.6l-1.8 2.6h3.6zM418.2 18.8l-2.6 -1.8v3.6z" fill="#555"/>
<path d="M412.5 7V17" stroke="#1a6aa8" stroke-width="1.2"/><path d="M418 12.5H414M416.4 10.4L413.8 12.5L416.4 14.6" stroke="#d04800" stroke-width="1.2" fill="none"/>
<path d="M437.5 5.5H445L448.5 9V18.5H437.5Z" fill="#fbfbfb" stroke="#9a9a9a" stroke-width=".9"/><path d="M445 5.5V9H448.5" fill="none" stroke="#9a9a9a" stroke-width=".8"/><path d="M440.8 8.6c-1.2 0 -1.2 6 0 6" stroke="#777" stroke-width=".8" fill="none"/>
<path d="M445 11.2H448.7V15H452.6V18.7H448.7V22.6H445V18.7H441.2V15H445Z" fill="url(#grn)" stroke="#0a8a0a" stroke-width=".8"/>
<polygon points="459,12 464.4,12 461.7,15" fill="#000"/>
<polygon points="498,12 503.4,12 500.7,15" fill="#000"/>
<polygon points="537,12 542.4,12 539.7,15" fill="#000"/>
<polygon points="843,12 848.4,12 845.7,15" fill="#000"/>
<circle cx="483" cy="13" r="6.6" fill="#fbfdff" stroke="url(#clk)" stroke-width="2.6"/><circle cx="483" cy="13" r="4.3" fill="none" stroke="#b8c0cc" stroke-width=".9" stroke-dasharray=".7 1.55"/><path d="M483 9.6V13.2L485.6 14" stroke="#222" stroke-width="1" fill="none"/>
<rect x="514.5" y="6.5" width="15" height="13" fill="#fff" stroke="#3a6cc4" stroke-width="1"/><rect x="514" y="6" width="16" height="2.4" fill="#5a8cdc"/><path d="M514.5 13.6H529.5" stroke="#3a6cc4" stroke-width=".9"/>
<path d="M516.5 12L519 11.4L521 10.2L523.4 11L525.6 10.4L527.8 9.8" stroke="#8a1a10" stroke-width="1.1" fill="none"/><path d="M516.8 17.4L519 16.6L521 17.2L523 15.8L525 15.2L527.6 17.2" stroke="#1a9a1a" stroke-width="1.1" fill="none"/>
<path d="M565.8 6V17.8L568.6 15.2L571 20.2L572.9 19.3L570.6 14.5H574.2Z" fill="#505050"/>
<path d="M591 13.2H597M600 13.2H606M598.4 6V11.6M598.4 14.8V21" stroke="#404040" stroke-width="1.2" fill="none"/>
<path d="M632.4 7.2V20" stroke="#404040" stroke-width="1.3"/><path d="M655 13.3H667" stroke="#404040" stroke-width="1.2"/><path d="M683 20L695 7.8" stroke="#404040" stroke-width="1.2"/>
<g stroke="#555" stroke-width="1" fill="none" stroke-dasharray="1.2 .5"><path d="M708.5 14.4L716.8 7"/><path d="M714 19.8L723.3 11.1"/></g>
<path d="M710.8 19.4L711.8 13.2L714 16.2L717.4 9.6L718.3 14.6L720.4 5.2L721.4 11" stroke="#444" stroke-width="1.3" fill="none" stroke-linejoin="round"/>
<text x="719.8" y="21.9" style="font-size:7px;font-weight:bold;fill:#333">E</text>
<rect class="cr" x="738" y="6" width="1" height="1" fill="#4a4a4a"/>
<rect class="cr" x="740" y="6" width="1" height="1" fill="#4a4a4a"/>
<rect class="cr" x="742" y="6" width="1" height="1" fill="#4a4a4a"/>
<rect class="cr" x="744" y="6" width="1" height="1" fill="#4a4a4a"/>
<rect class="cr" x="746" y="6" width="1" height="1" fill="#4a4a4a"/>
<rect class="cr" x="748" y="6" width="1" height="1" fill="#4a4a4a"/>
<rect class="cr" x="750" y="6" width="1" height="1" fill="#4a4a4a"/>
<rect class="cr" x="738" y="9" width="1" height="1" fill="#4a4a4a"/>
<rect class="cr" x="740" y="9" width="1" height="1" fill="#4a4a4a"/>
<rect class="cr" x="742" y="9" width="1" height="1" fill="#4a4a4a"/>
<rect class="cr" x="744" y="9" width="1" height="1" fill="#4a4a4a"/>
<rect class="cr" x="746" y="9" width="1" height="1" fill="#4a4a4a"/>
<rect class="cr" x="748" y="9" width="1" height="1" fill="#4a4a4a"/>
<rect class="cr" x="750" y="9" width="1" height="1" fill="#4a4a4a"/>
<rect class="cr" x="738" y="13" width="1" height="1" fill="#4a4a4a"/>
<rect class="cr" x="740" y="13" width="1" height="1" fill="#4a4a4a"/>
<rect class="cr" x="742" y="13" width="1" height="1" fill="#4a4a4a"/>
<rect class="cr" x="744" y="13" width="1" height="1" fill="#4a4a4a"/>
<rect class="cr" x="746" y="13" width="1" height="1" fill="#4a4a4a"/>
<rect class="cr" x="748" y="13" width="1" height="1" fill="#4a4a4a"/>
<rect class="cr" x="750" y="13" width="1" height="1" fill="#4a4a4a"/>
<rect class="cr" x="738" y="17" width="1" height="1" fill="#4a4a4a"/>
<rect class="cr" x="740" y="17" width="1" height="1" fill="#4a4a4a"/>
<rect class="cr" x="742" y="17" width="1" height="1" fill="#4a4a4a"/>
<rect class="cr" x="744" y="17" width="1" height="1" fill="#4a4a4a"/>
<rect class="cr" x="746" y="17" width="1" height="1" fill="#4a4a4a"/>
<text x="747.8" y="21.9" style="font-size:7px;font-weight:bold;fill:#333">F</text>
<text x="768.3" y="18" style="font-size:12.4px;fill:#555;stroke:#555;stroke-width:.55px">A</text>
<rect x="795" y="7.4" width="11.5" height="12" fill="none" stroke="#555" stroke-width="1" stroke-dasharray="1 1.1"/><text x="800.8" y="17.6" text-anchor="middle" style="font-size:11px;font-weight:bold;fill:#555">T</text>
<path d="M822.2 10.4L826 6.8L829.8 10.4L826 12Z" fill="#444"/><path d="M828.2 16.2L832.2 14.4L836.2 16.2L832.2 20Z" fill="#444"/><path d="M824.4 13.6L827 16L832.8 9.2" stroke="#444" stroke-width="1.5" fill="none"/>
<text transform="translate(875.8 16.6) scale(0.912 1)" text-anchor="middle" style="font-size:10.2px;fill:#3a3a3a;stroke:#3a3a3a;" class="t">M1</text>
<text transform="translate(904 16.6) scale(0.912 1)" text-anchor="middle" style="font-size:10.2px;fill:#3a3a3a;stroke:#3a3a3a;" class="t">M5</text>
<text transform="translate(932.4 16.6) scale(0.912 1)" text-anchor="middle" style="font-size:10.2px;fill:#3a3a3a;stroke:#3a3a3a;" class="t">M15</text>
<text transform="translate(960.4 16.6) scale(0.912 1)" text-anchor="middle" style="font-size:10.2px;fill:#3a3a3a;stroke:#3a3a3a;" class="t">M30</text>
<text transform="translate(988.6 16.6) scale(0.912 1)" text-anchor="middle" style="font-size:10.2px;fill:#3a3a3a;stroke:#3a3a3a;" class="t">H1</text>
<text transform="translate(1016 16.6) scale(0.912 1)" text-anchor="middle" style="font-size:10.2px;fill:#3a3a3a;stroke:#3a3a3a;" class="t">H4</text>
<text transform="translate(1044.6 16.6) scale(0.912 1)" text-anchor="middle" style="font-size:10.2px;fill:#3a3a3a;stroke:#3a3a3a;" class="t">D1</text>
<text transform="translate(1073 16.6) scale(0.912 1)" text-anchor="middle" style="font-size:10.2px;fill:#3a3a3a;stroke:#3a3a3a;" class="t">W1</text>
<text transform="translate(1100.2 16.6) scale(0.912 1)" text-anchor="middle" style="font-size:10.2px;fill:#3a3a3a;stroke:#3a3a3a;" class="t">MN</text>
<path d="M1582.2 13.6L1577.6 18.2" stroke="#2458d0" stroke-width="2.4" stroke-linecap="round"/><circle cx="1585.6" cy="10.3" r="3.9" fill="#f4f4f8" stroke="#2a5fd8" stroke-width="1.2"/>
<path d="M1612.6 12.8a6.8 4.7 0 1 1 9 1.7l1 2.2l-2.8 -1.7a6.8 4.7 0 0 1 -7.2 -2.2Z" fill="#f1f1f6" stroke="#858585" stroke-width="1"/>
<path d="M1604.6 15.6a5.1 3.8 0 1 1 3.6 2.1l-2.5 2.1l.6 -2.5a5 3.7 0 0 1 -1.7 -1.7Z" fill="#f3f3f8" stroke="#858585" stroke-width="1"/>
</g>
</svg>
</body></html>
